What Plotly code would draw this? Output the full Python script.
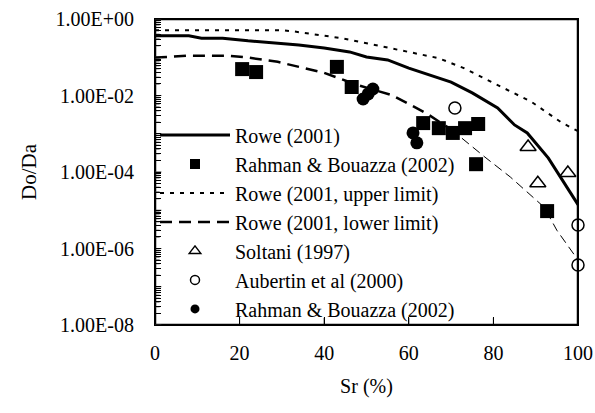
import plotly.graph_objects as go

# ---- data ----
rowe_sr = [0, 8, 11, 16, 22, 30, 34, 40, 46, 50, 55, 60, 67, 70, 75, 81, 85, 88, 93, 100]
rowe_d = [0.363, 0.363, 0.316, 0.316, 0.269, 0.234, 0.209, 0.174, 0.138, 0.102,
          0.085, 0.052, 0.0288, 0.0224, 0.0117, 4.7e-3, 1.7e-3, 1.05e-3, 2.3e-4, 1.4e-5]

upper_sr = [0, 30, 33, 44, 52, 60, 67, 73, 81, 89, 96, 100]
upper_d = [0.51, 0.51, 0.47, 0.316, 0.209, 0.138, 0.095, 0.052, 0.0186, 6.8e-3, 2.0e-3, 1.17e-3]

lower_sr_a = [0, 8, 17, 22, 29, 34, 40, 48, 56, 64, 70]
lower_d_a = [0.098, 0.11, 0.11, 0.098, 0.076, 0.056, 0.039, 0.0186, 0.0102, 3.5e-3, 1.3e-3]
lower_sr_b = [70, 73, 78, 84, 92, 95, 100]
lower_d_b = [1.3e-3, 6.9e-4, 2.45e-4, 7.4e-5, 1.2e-5, 3.0e-6, 5.0e-7]

rb_sq_sr = [20.6, 23.9, 43.0, 46.5, 63.4, 67.1, 70.4, 73.3, 76.4, 75.9, 92.7]
rb_sq_d = [0.049, 0.041, 0.056, 0.0167, 1.9e-3, 1.4e-3, 1.05e-3, 1.4e-3, 1.8e-3, 1.6e-4, 9.5e-6]

soltani_sr = [88.2, 90.5, 97.6]
soltani_d = [4.5e-4, 5.1e-5, 9.4e-5]

aubertin_sr = [70.9, 100, 100]
aubertin_d = [4.7e-3, 4.1e-6, 3.7e-7]

rb_ci_sr = [49.2, 50.4, 51.5, 61.0, 61.9]
rb_ci_d = [8.1e-3, 0.011, 0.0148, 1.05e-3, 5.8e-4]

y_label_decades = {0: "1.00E+00", -2: "1.00E-02", -4: "1.00E-04", -6: "1.00E-06", -8: "1.00E-08"}
x_tickvals = [0, 20, 40, 60, 80, 100]

X_RANGE = [0, 100]
Y_LOG_RANGE = [-8, 0]

FONT = "Liberation Serif"

# y ticks: every decade plus the log minor positions (labels only on even decades)
y_tickvals, y_ticktext, y_is_major = [], [], []
for e in range(Y_LOG_RANGE[0], Y_LOG_RANGE[1] + 1):
    y_tickvals.append(10.0 ** e)
    y_ticktext.append(y_label_decades.get(e, ""))
    y_is_major.append(True)
    if e < Y_LOG_RANGE[1]:
        for m in range(2, 10):
            y_tickvals.append(m * 10.0 ** e)
            y_ticktext.append("")
            y_is_major.append(False)

fig = go.Figure()

# lines
fig.add_trace(go.Scatter(x=rowe_sr, y=rowe_d, mode="lines", name="Rowe (2001)",
                         line=dict(color="black", width=3), legendrank=1))
fig.add_trace(go.Scatter(x=upper_sr, y=upper_d, mode="lines", name="Rowe (2001, upper limit)",
                         line=dict(color="black", width=2, dash="4px,6px"), legendrank=3))
fig.add_trace(go.Scatter(x=lower_sr_a, y=lower_d_a, mode="lines", name="Rowe (2001, lower limit)",
                         line=dict(color="black", width=2.5, dash="12px,7px"), legendrank=4))
fig.add_trace(go.Scatter(x=lower_sr_b, y=lower_d_b, mode="lines", showlegend=False,
                         line=dict(color="black", width=1, dash="9px,5px")))

# markers (data)
fig.add_trace(go.Scatter(x=rb_sq_sr, y=rb_sq_d, mode="markers", showlegend=False,
                         marker=dict(symbol="square", size=14, color="black")))
fig.add_trace(go.Scatter(x=soltani_sr, y=soltani_d, mode="markers", showlegend=False,
                         marker=dict(symbol="triangle-up-open", size=14, color="black",
                                     line=dict(width=1.5))))
fig.add_trace(go.Scatter(x=aubertin_sr, y=aubertin_d, mode="markers", showlegend=False, cliponaxis=False,
                         marker=dict(symbol="circle-open", size=12, color="black",
                                     line=dict(width=1.5))))
fig.add_trace(go.Scatter(x=rb_ci_sr, y=rb_ci_d, mode="markers", showlegend=False,
                         marker=dict(symbol="circle", size=13, color="black")))

# legend entries for marker series (smaller symbols as in reference)
fig.add_trace(go.Scatter(x=[None], y=[None], mode="markers", name="Rahman & Bouazza (2002)",
                         marker=dict(symbol="square", size=10, color="black"), legendrank=2))
fig.add_trace(go.Scatter(x=[None], y=[None], mode="markers", name="Soltani (1997)",
                         marker=dict(symbol="triangle-up-open", size=10, color="black",
                                     line=dict(width=1.5)), legendrank=5))
fig.add_trace(go.Scatter(x=[None], y=[None], mode="markers", name="Aubertin et al (2000)",
                         marker=dict(symbol="circle-open", size=9, color="black",
                                     line=dict(width=1.5)), legendrank=6))
fig.add_trace(go.Scatter(x=[None], y=[None], mode="markers", name="Rahman & Bouazza (2002)",
                         marker=dict(symbol="circle", size=9, color="black"), legendrank=7))

# ---- plot frame and inside tick marks, built from the axis ranges / tick arrays ----
x0, x1 = X_RANGE
y0, y1 = 10.0 ** Y_LOG_RANGE[0], 10.0 ** Y_LOG_RANGE[1]
fig.add_trace(go.Scatter(x=[x0, x1, x1, x0, x0], y=[y0, y0, y1, y1, y0], mode="lines",
                         showlegend=False, hoverinfo="skip", cliponaxis=False,
                         line=dict(color="black", width=2.5)))

xt_len = 10.0 ** (Y_LOG_RANGE[0] + 0.19)          # ~7 px up from the bottom
xt_x, xt_y = [], []
for v in x_tickvals[1:-1]:
    xt_x += [v, v, None]
    xt_y += [y0, xt_len, None]
fig.add_trace(go.Scatter(x=xt_x, y=xt_y, mode="lines", showlegend=False, hoverinfo="skip",
                         line=dict(color="black", width=1)))

yt_x, yt_y = [], []
for v, major in zip(y_tickvals, y_is_major):
    yt_x += [x0, x0 + (1.5 if major else 1.1) * (x1 - x0) / 100.0, None]
    yt_y += [v, v, None]
fig.add_trace(go.Scatter(x=yt_x, y=yt_y, mode="lines", showlegend=False, hoverinfo="skip",
                         line=dict(color="#333333", width=1)))

fig.update_layout(
    width=595, height=413,
    margin=dict(l=155, r=17, t=19, b=88, autoexpand=False),
    paper_bgcolor="white", plot_bgcolor="white",
    font=dict(family=FONT, size=20, color="black"),
    showlegend=True,
    legend=dict(x=0.0, xanchor="left", y=0.685, yanchor="top",
                bgcolor="rgba(0,0,0,0)", borderwidth=0,
                font=dict(family=FONT, size=20, color="black"),
                itemwidth=70),
    xaxis=dict(range=X_RANGE, tickmode="array", tickvals=x_tickvals,
               ticks="inside", ticklen=8, tickwidth=1, tickcolor="black",
               showline=True, linecolor="black", linewidth=1, mirror=True,
               showgrid=False, zeroline=False, automargin=False, ticklabelstandoff=10,
               tickfont=dict(family=FONT, size=20, color="black"),
               title=dict(text="Sr (%)", font=dict(family=FONT, size=20, color="black"), standoff=15)),
    yaxis=dict(type="log", range=Y_LOG_RANGE, tickmode="array", tickvals=y_tickvals, ticktext=y_ticktext,
               ticks="inside", ticklen=6, tickwidth=1, tickcolor="black",
               showline=True, linecolor="black", linewidth=1, mirror=True,
               showgrid=False, zeroline=False, automargin=False, ticklabelstandoff=16,
               tickfont=dict(family=FONT, size=20, color="black"),
               title=dict(text="Do/Da", font=dict(family=FONT, size=21, color="black"), standoff=13)),
)

fig.write_html("out.html")
